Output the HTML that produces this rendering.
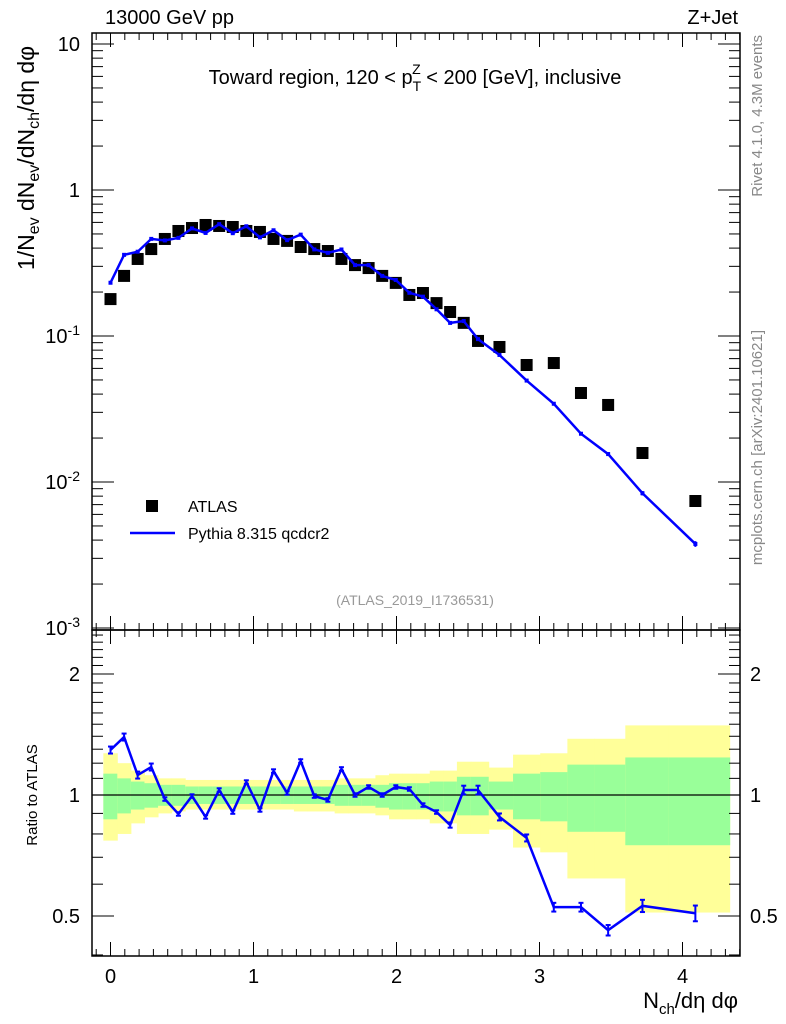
<!DOCTYPE html>
<html><head><meta charset="utf-8"><style>
body{margin:0;background:#fff;}
svg{display:block;font-family:"Liberation Sans",sans-serif;}
</style></head><body>
<svg id="chart" width="786" height="1024" viewBox="0 0 786 1024">
<rect x="0" y="0" width="786" height="1024" fill="#fff"/>
<g id="bands"></g>
<g id="axes"></g>
<g id="marks"></g>
<text x="105" y="24" font-size="20">13000 GeV pp</text>
<text x="738" y="24" font-size="20" text-anchor="end">Z+Jet</text>
<text x="415" y="84" font-size="20" text-anchor="middle">Toward region, 120 &lt; p<tspan font-size="14" dy="7">T</tspan><tspan font-size="14" dx="-9" dy="-17">Z</tspan><tspan dy="10"> &lt; 200 [GeV], inclusive</tspan></text>
<text transform="translate(34,158) rotate(-90)" font-size="23" text-anchor="middle">1/N<tspan font-size="16" dy="5">ev</tspan><tspan dy="-5"> dN</tspan><tspan font-size="16" dy="5">ev</tspan><tspan dy="-5">/dN</tspan><tspan font-size="16" dy="5">ch</tspan><tspan dy="-5">/dη dφ</tspan></text>
<text transform="translate(37,795) rotate(-90)" font-size="15" text-anchor="middle">Ratio to ATLAS</text>
<text x="738" y="1008" font-size="22" text-anchor="end">N<tspan font-size="15" dy="6">ch</tspan><tspan dy="-6">/dη dφ</tspan></text>
<text transform="translate(762,35) rotate(-90)" font-size="15" fill="#888" text-anchor="end">Rivet 4.1.0,  4.3M events</text>
<text transform="translate(762,330) rotate(-90)" font-size="15" fill="#888" text-anchor="end">mcplots.cern.ch [arXiv:2401.10621]</text>
<text x="415" y="605" font-size="14" fill="#999" text-anchor="middle">(ATLAS_2019_I1736531)</text>
<rect x="146" y="500" width="12" height="12" fill="#000"/>
<text x="188" y="512" font-size="16">ATLAS</text>
<line x1="130" y1="533" x2="175" y2="533" stroke="#0000ff" stroke-width="2.5"/>
<text x="188" y="539" font-size="16">Pythia 8.315 qcdcr2</text>
</svg>
<script>
const xVals=[0,0.095,0.19,0.285,0.38,0.475,0.57,0.665,0.76,0.855,0.95,1.045,1.14,1.235,1.33,1.425,1.52,1.615,1.71,1.805,1.9,1.995,2.09,2.185,2.28,2.375,2.47,2.57,2.72,2.91,3.1,3.29,3.48,3.72,4.09];
const atlasVals=[0.179,0.258,0.337,0.394,0.462,0.524,0.549,0.576,0.567,0.558,0.524,0.516,0.462,0.448,0.407,0.394,0.382,0.337,0.306,0.292,0.258,0.231,0.191,0.197,0.168,0.146,0.123,0.0925,0.0841,0.0633,0.0653,0.0407,0.0337,0.0158,0.00741];
const ratioVals=[1.294,1.394,1.121,1.174,0.977,0.897,0.994,0.882,1.029,0.907,1.077,0.918,1.147,1.012,1.215,0.994,0.972,1.161,1.0,1.047,1.0,1.047,1.035,0.944,0.907,0.842,1.029,1.029,0.882,0.782,0.526,0.526,0.461,0.530,0.508];
const ratioErr=[0.02,0.02,0.02,0.02,0.01,0.01,0.01,0.01,0.01,0.01,0.01,0.01,0.01,0.01,0.01,0.01,0.01,0.01,0.01,0.01,0.01,0.01,0.01,0.01,0.01,0.015,0.025,0.025,0.02,0.02,0.025,0.025,0.03,0.035,0.045];
const yelUp=[1.27,1.20,1.15,1.12,1.10,1.10,1.09,1.09,1.09,1.09,1.09,1.09,1.09,1.09,1.09,1.09,1.09,1.10,1.10,1.10,1.12,1.13,1.13,1.13,1.15,1.15,1.21,1.21,1.17,1.26,1.27,1.38,1.38,1.49,1.49];
const yelDn=[0.77,0.80,0.85,0.88,0.90,0.91,0.92,0.92,0.92,0.92,0.92,0.92,0.92,0.92,0.91,0.91,0.91,0.90,0.90,0.90,0.89,0.87,0.87,0.87,0.85,0.85,0.80,0.80,0.82,0.74,0.72,0.62,0.62,0.51,0.51];
const grnUp=[1.13,1.10,1.08,1.07,1.06,1.06,1.05,1.05,1.05,1.05,1.05,1.05,1.05,1.05,1.05,1.05,1.05,1.06,1.06,1.06,1.06,1.07,1.07,1.07,1.08,1.08,1.11,1.11,1.08,1.13,1.14,1.19,1.19,1.24,1.24];
const grnDn=[0.87,0.90,0.92,0.93,0.94,0.94,0.95,0.95,0.95,0.95,0.95,0.95,0.95,0.95,0.95,0.95,0.95,0.94,0.94,0.94,0.93,0.92,0.92,0.92,0.91,0.91,0.89,0.89,0.92,0.87,0.86,0.81,0.81,0.75,0.75];
const xTicks=[0,1,2,3,4];
const mainTicks=[10,1,0.1,0.01,0.001];
const mainTickLabels=["10","1","10^-1","10^-2","10^-3"];
const ratioTicks=[0.5,1,2];

const NS="http://www.w3.org/2000/svg";
const L=92,R=740,MT=33,MB=630,RT=630,RB=956;
const X=v=>110.5+143*v;
const Ym=v=>190-146*Math.log10(v);
const Yr=v=>795-121*Math.log2(v);
function mk(tag,attrs,parent){const e=document.createElementNS(NS,tag);for(const k in attrs)e.setAttribute(k,attrs[k]);parent.appendChild(e);return e;}
const axes=document.getElementById('axes'),marks=document.getElementById('marks'),bands=document.getElementById('bands');

const n=xVals.length;
const edges=[];edges.push(xVals[0]-0.05);
for(let i=0;i<n-1;i++)edges.push((xVals[i]+xVals[i+1])/2);
edges.push(4.33);
for(let i=0;i<n;i++){
 const y=mk('rect',{x:X(edges[i]),y:Yr(yelUp[i]),width:X(edges[i+1])-X(edges[i])+0.5,height:Yr(yelDn[i])-Yr(yelUp[i]),fill:'#ffff99'},bands);
 
 
 const g=mk('rect',{x:X(edges[i]),y:Yr(grnUp[i]),width:X(edges[i+1])-X(edges[i])+0.5,height:Yr(grnDn[i])-Yr(grnUp[i]),fill:'#99ff99'},bands);
 
 
}

const f1=mk('rect',{x:L,y:MT,width:R-L,height:MB-MT,fill:'none',stroke:'#000','stroke-width':1.5},axes);


const f2=mk('rect',{x:L,y:RT,width:R-L,height:RB-RT,fill:'none',stroke:'#000','stroke-width':1.5},axes);


const one=mk('line',{x1:L,x2:R,y1:Yr(1),y2:Yr(1),stroke:'#000','stroke-width':1.2},axes);



for(let t=-0.1;t<=4.41;t+=0.1){
 const v=Math.round(t*10)/10;const maj=Math.abs(v-Math.round(v))<1e-6;const len=maj?14:7;
 [[MB,-1],[MT,1],[RB,-1],[RT,1]].forEach(([y0,d])=>{mk('line',{x1:X(v),x2:X(v),y1:y0,y2:y0+d*len,stroke:'#000','stroke-width':1},axes);});
}
xTicks.forEach(v=>{const t=mk('text',{x:X(v),y:983,'font-size':20,'text-anchor':'middle'},axes);t.textContent=v;
 
 });

for(let d=-3;d<=1;d++){for(let m=1;m<=9;m++){const v=m*Math.pow(10,d);const y=Ym(v);if(y<MT||y>MB)continue;const len=m==1?22:11;
 mk('line',{x1:L,x2:L+len,y1:y,y2:y,stroke:'#000'},axes);mk('line',{x1:R,x2:R-len,y1:y,y2:y,stroke:'#000'},axes);}}
mainTicks.forEach((v,i)=>{const lab=mainTickLabels[i];const t=mk('text',{x:80,y:Ym(v)+7,'font-size':20,'text-anchor':'end'},axes);
 if(lab.includes('^')){const p=lab.split('^');t.textContent=p[0];const s=mk('tspan',{'font-size':14,dy:-8},t);s.textContent=p[1];}else t.textContent=lab;
 
 });

for(let k=4;k<=25;k++){const v=k/10;const y=Yr(v);if(y<RT||y>RB)continue;const maj=ratioTicks.includes(v);const len=maj?22:11;
 mk('line',{x1:L,x2:L+len,y1:y,y2:y,stroke:'#000'},axes);mk('line',{x1:R,x2:R-len,y1:y,y2:y,stroke:'#000'},axes);}
ratioTicks.forEach(v=>{[[80,'end'],[750,'start']].forEach(([x,a])=>{const t=mk('text',{x:x,y:Yr(v)+7,'font-size':20,'text-anchor':a},axes);t.textContent=v;
 
 });});

const pyVals=atlasVals.map((a,i)=>a*ratioVals[i]);
atlasVals.forEach((v,i)=>{const r=mk('rect',{x:X(xVals[i])-6,y:Ym(v)-6,width:12,height:12,fill:'#000'},marks);
 
 });
const p1=mk('polyline',{points:pyVals.map((v,i)=>X(xVals[i])+','+Ym(v)).join(' '),fill:'none',stroke:'#0000ff','stroke-width':2.5},marks);


pyVals.forEach((v,i)=>{const e=ratioErr[i];const x=X(xVals[i]);
 const c=mk('line',{x1:x,x2:x,y1:Ym(v*(1+e)),y2:Ym(v*(1-e)),stroke:'#0000ff','stroke-width':2},marks);
 
 
 mk('rect',{x:x-2,y:Ym(v)-2,width:4,height:4,fill:'#0000ff'},marks);});
const p2=mk('polyline',{points:ratioVals.map((v,i)=>X(xVals[i])+','+Yr(v)).join(' '),fill:'none',stroke:'#0000ff','stroke-width':2.5},marks);


ratioVals.forEach((v,i)=>{const e=ratioErr[i];const x=X(xVals[i]);const y1=Yr(v*(1+e)),y2=Yr(v*(1-e));
 const c=mk('line',{x1:x,x2:x,y1:y1,y2:y2,stroke:'#0000ff','stroke-width':2},marks);
 
 
 mk('line',{x1:x-2.5,x2:x+2.5,y1:y1,y2:y1,stroke:'#0000ff','stroke-width':2},marks);
 mk('line',{x1:x-2.5,x2:x+2.5,y1:y2,y2:y2,stroke:'#0000ff','stroke-width':2},marks);});
</script>
</body></html>
